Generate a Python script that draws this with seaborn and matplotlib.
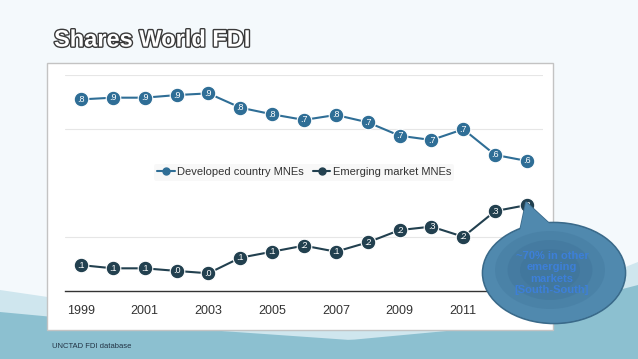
import numpy as np
import pandas as pd
import matplotlib
matplotlib.use("Agg")
import matplotlib.pyplot as plt
import matplotlib.patheffects as pe
from matplotlib.patches import Ellipse, Polygon, Rectangle
from matplotlib.lines import Line2D
import seaborn as sns

years = list(range(1999, 2014))
developed = [0.887, 0.895, 0.895, 0.907, 0.915, 0.849, 0.818, 0.792, 0.815, 0.781,
             0.719, 0.699, 0.749, 0.630, 0.602]
emerging = [0.120, 0.105, 0.105, 0.093, 0.082, 0.154, 0.182, 0.210, 0.182, 0.225,
            0.282, 0.298, 0.251, 0.370, 0.398]
dev_labels = [".8", ".9", ".9", ".9", ".9", ".8", ".8", ".7", ".8", ".7", ".7", ".7", ".7", ".6", ".6"]
em_labels = [".1", ".1", ".1", ".0", ".0", ".1", ".1", ".2", ".1", ".2", ".2", ".3", ".2", ".3", ".3"]
series_names = ["Developed country MNEs", "Emerging market MNEs"]
tick_years = [1999, 2001, 2003, 2005, 2007, 2009, 2011, 2013]
callout_lines = "~70% in other\nemerging\nmarkets\n[South-South]"

df = pd.DataFrame({
    "year": years * 2,
    "share": developed + emerging,
    "series": [series_names[0]] * len(years) + [series_names[1]] * len(years),
})
colors = {series_names[0]: "#2f6e96", series_names[1]: "#22404f"}

sns.set_style("white")
plt.rcParams['font.family'] = ['Liberation Sans', 'DejaVu Sans']

W, H = 638, 359
fig = plt.figure(figsize=(W / 100, H / 100), dpi=100)
fig.patch.set_facecolor("#f4f9fc")

# slide background with teal waves, pixel coords
bg = fig.add_axes([0, 0, 1, 1], zorder=0)
bg.set_xlim(0, W)
bg.set_ylim(H, 0)
bg.axis("off")
xs = np.linspace(0, W, 100)
top1 = np.interp(xs, [0, 150, 350, 500, 580, 638], [290, 312, 330, 315, 285, 262])
bg.fill_between(xs, top1, H, color="#cfe6ee", lw=0)
top2 = np.interp(xs, [0, 150, 350, 500, 580, 638], [312, 326, 340, 326, 300, 285])
bg.fill_between(xs, top2, H, color="#8cc0d0", lw=0)
bg.add_patch(Rectangle((47, 63), 506, 267, facecolor="white", edgecolor="#c3c3c3", lw=1))
t = bg.text(54, 40, "Shares World FDI", fontsize=17, fontweight="bold", color="white",
            va="center", ha="left")
t.set_path_effects([pe.Stroke(linewidth=2, foreground="#3a3a3a"), pe.Normal()])
bg.text(52, 346, "UNCTAD FDI database", fontsize=5.5, color="#223344", va="center")

ax = fig.add_axes([65 / W, (H - 291) / H, 478 / W, 216 / H], zorder=2)
ax.patch.set_alpha(0)
sns.lineplot(data=df, x="year", y="share", hue="series", palette=colors, marker="o",
             markersize=10.5, markeredgecolor="white", markeredgewidth=0.8, lw=1.5,
             legend=False, ax=ax)
for yr, v, lab in zip(years, developed, dev_labels):
    ax.text(yr, v, lab, color="white", fontsize=6.5, ha="center", va="center", zorder=5)
for yr, v, lab in zip(years, emerging, em_labels):
    ax.text(yr, v, lab, color="white", fontsize=6.5, ha="center", va="center", zorder=5)

ax.set_xlim(years[0] - 0.5, years[-1] + 0.5)
ax.set_ylim(0, 1)
ax.set_xticks(tick_years)
ax.set_xticklabels([str(y) for y in tick_years], fontsize=9, color="#333333")
ax.set_yticks([0.25, 0.75, 1.0])
ax.set_yticklabels([])
ax.tick_params(axis="both", length=0, pad=10)
ax.grid(axis="y", color="#e6e6e6", lw=0.8)
ax.set_xlabel("")
ax.set_ylabel("")
for s in ["top", "right", "left"]:
    ax.spines[s].set_visible(False)
ax.spines["bottom"].set_color("#333333")
ax.spines["bottom"].set_linewidth(1)

handles = [Line2D([], [], color=colors[n], marker="o", markersize=5, lw=1.5) for n in series_names]
leg = ax.legend(handles, series_names, loc="center", bbox_to_anchor=(0.5, 0.55), ncol=2,
                frameon=True, fontsize=8, handlelength=1.6, handletextpad=0.2,
                columnspacing=0.8, borderpad=0.3)
leg.get_frame().set_facecolor("#f7f7f7")
leg.get_frame().set_edgecolor("none")
for txt in leg.get_texts():
    txt.set_color("#333333")

# callout bubble overlay
ov = fig.add_axes([0, 0, 1, 1], zorder=10)
ov.set_xlim(0, W)
ov.set_ylim(H, 0)
ov.axis("off")
tail = [(526, 202), (519, 235), (552, 226)]
ov.add_patch(Polygon(tail, closed=True, facecolor="#5089ae", edgecolor="#3a6a8a", lw=1.2, zorder=1))
ov.add_patch(Ellipse((554, 273), 143, 101, facecolor="#5089ae", edgecolor="#3a6a8a", lw=1.2, zorder=1))
ov.add_patch(Polygon(tail, closed=True, facecolor="#5089ae", edgecolor="none", zorder=2))
ov.add_patch(Ellipse((554, 273), 141, 99, facecolor="#5089ae", edgecolor="none", zorder=2))
for w, h, a in [(110, 78, 0.25), (85, 60, 0.3), (60, 42, 0.3)]:
    ov.add_patch(Ellipse((550, 270), w, h, facecolor="#3a6e94", edgecolor="none", alpha=a, zorder=2))
ov.text(552, 273, callout_lines, color="#3d7fd8", fontsize=8, fontweight="bold",
        ha="center", va="center", linespacing=1.15, zorder=3)

fig.savefig("out.png", dpi=100, facecolor=fig.get_facecolor())
